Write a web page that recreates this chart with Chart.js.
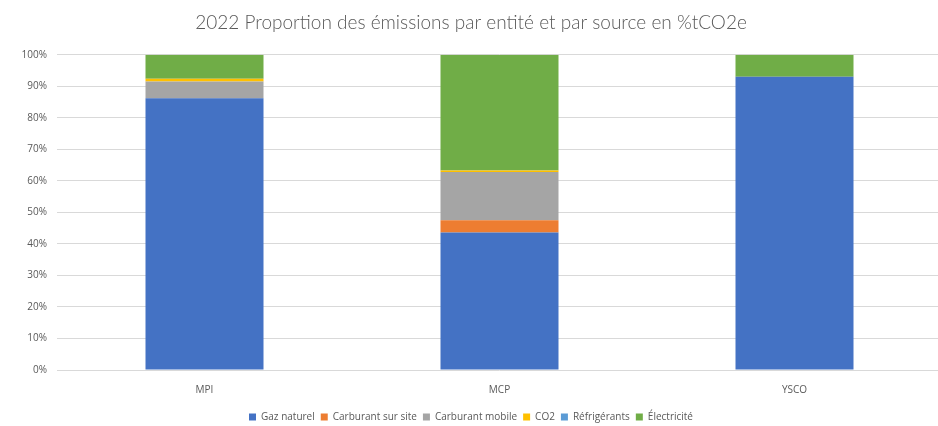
<!DOCTYPE html>
<html>
<head>
<meta charset="utf-8">
<script src="https://cdn.jsdelivr.net/npm/chart.js@4"></script>
<style>
  html, body { margin: 0; padding: 0; background: #fff; overflow: hidden; }
  #wrap { width: 938px; height: 426px; overflow: hidden; }
</style>
</head>
<body>
<div id="wrap"><canvas id="Graph" width="946" height="432"></canvas></div>
<script>
let canvas = document.getElementById("Graph");

const labels = ['MPI', 'MCP', 'YSCO'];

const gazNaturel = [86.2, 43.6, 93.0];
const carburantSite = [0, 3.9, 0];
const carburantMobile = [5.3, 15.3, 0];
const co2 = [0.9, 0.5, 0];
const refrigerants = [0, 0, 0];
const electricite = [7.6, 36.7, 7.0];

const yTicks = [0, 10, 20, 30, 40, 50, 60, 70, 80, 90, 100];

const grey = '#595959';

const data = {
  labels: labels,
  datasets: [
    { label: 'Gaz naturel', data: gazNaturel, backgroundColor: '#4472C4' },
    { label: 'Carburant sur site', data: carburantSite, backgroundColor: '#ED7D31' },
    { label: 'Carburant mobile', data: carburantMobile, backgroundColor: '#A5A5A5' },
    { label: 'CO2', data: co2, backgroundColor: '#FFC000' },
    { label: 'Réfrigérants', data: refrigerants, backgroundColor: '#5B9BD5' },
    { label: 'Électricité', data: electricite, backgroundColor: '#70AD47' }
  ]
};

const config = {
  type: 'bar',
  data: data,
  options: {
    responsive: false,
    animation: false,
    layout: { padding: { left: 0, right: 4, top: 0, bottom: 0 } },
    datasets: {
      bar: { categoryPercentage: 1, barPercentage: 0.4, borderWidth: 0 }
    },
    plugins: {
      title: {
        display: true,
        text: '2022 Proportion des émissions par entité et par source en %tCO2e',
        color: grey,
        font: { family: 'Lato', size: 19, weight: 300 },
        padding: { top: 11, bottom: 21 }
      },
      legend: {
        position: 'bottom',
        labels: {
          boxWidth: 7,
          boxHeight: 7,
          padding: 6,
          color: grey,
          font: { family: 'Open Sans', size: 10 }
        }
      },
      tooltip: { enabled: false }
    },
    scales: {
      x: {
        stacked: true,
        grid: { display: false },
        border: { display: false },
        ticks: { color: grey, padding: 6, font: { family: 'Open Sans', size: 10 } },
        afterFit: (scale) => { scale.height = 36; }
      },
      y: {
        stacked: true,
        min: 0,
        max: 100,
        afterBuildTicks: (scale) => { scale.ticks = yTicks.map(v => ({ value: v })); },
        grid: { color: '#D9D9D9', drawTicks: false },
        border: { display: false },
        ticks: {
          color: grey,
          padding: 10,
          font: { family: 'Open Sans', size: 10 },
          callback: (v) => v + '%'
        },
        afterFit: (scale) => { scale.width = 57; }
      }
    }
  }
};

const chart = new Chart(canvas, config);
</script>
</body>
</html>
